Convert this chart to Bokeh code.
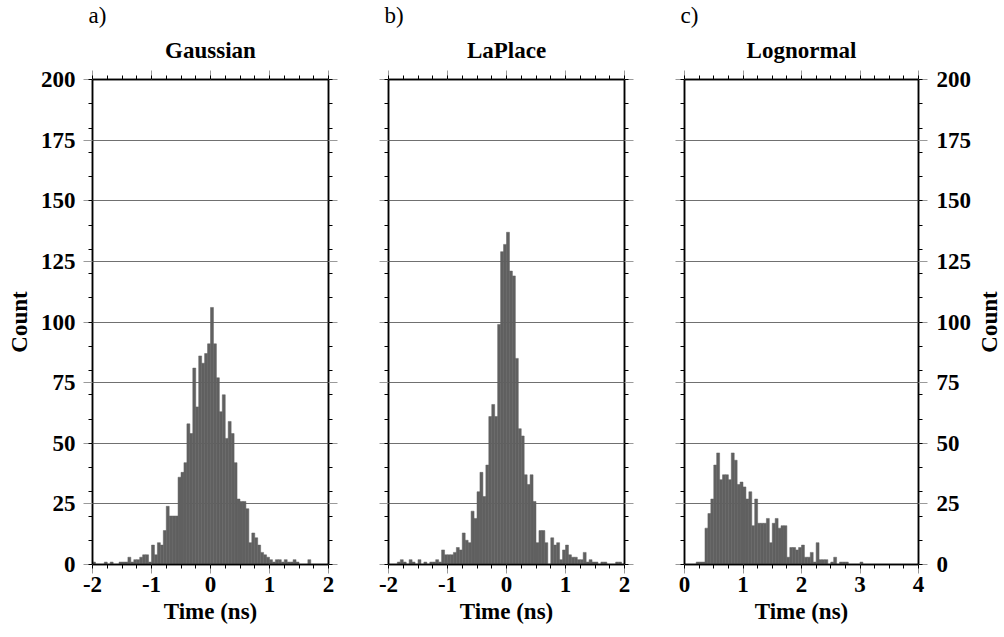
import numpy as np
from bokeh.plotting import figure
from bokeh.layouts import row
from bokeh.models import LinearAxis, FixedTicker, Title, ColumnDataSource
from bokeh.embed import file_html
from bokeh.resources import INLINE

# ---------------- data ----------------
BIN_WIDTH = 0.05
gauss_start = -2.0
laplace_start = -2.0
lognorm_start = 0.0

gauss_counts = [1, 0, 0, 0, 1, 0, 1, 0, 0, 1,
                1, 1, 3, 1, 2, 2, 3, 4, 4, 1,
                8, 4, 9, 8, 14, 24, 20, 20, 20, 36,
                38, 42, 58, 54, 81, 65, 86, 83, 87, 91,
                106, 91, 77, 63, 70, 52, 59, 54, 42, 27,
                26, 26, 23, 9, 13, 11, 8, 5, 4, 3,
                2, 1, 2, 2, 1, 2, 1, 1, 2, 1,
                0, 0, 0, 2, 0, 0, 0, 0, 0, 0]

laplace_counts = [0, 0, 0, 1, 2, 1, 0, 2, 1, 0,
                  2, 0, 1, 0, 1, 1, 2, 1, 6, 4,
                  4, 4, 5, 7, 6, 13, 10, 9, 22, 19,
                  30, 38, 28, 41, 61, 66, 61, 99, 129, 132,
                  137, 121, 119, 85, 56, 53, 37, 33, 37, 26,
                  9, 14, 14, 9, 0, 11, 8, 9, 2, 6,
                  8, 4, 3, 3, 2, 2, 5, 1, 2, 1,
                  1, 0, 1, 1, 0, 0, 0, 1, 1, 0]

lognorm_counts = [0, 0, 0, 0, 1, 1, 1, 15, 21, 27,
                  41, 46, 35, 37, 37, 35, 46, 43, 33, 34,
                  32, 27, 30, 16, 27, 17, 17, 17, 19, 9,
                  17, 19, 15, 16, 16, 3, 7, 7, 6, 7,
                  8, 3, 3, 5, 1, 9, 2, 2, 2, 0,
                  1, 3, 0, 1, 1, 1, 0, 0, 0, 0,
                  1, 0, 0, 0, 0, 0, 0, 0, 0, 0,
                  0, 0, 0, 0, 0, 0, 0, 0, 0, 0]

panel_letters = ["a)", "b)", "c)"]
panel_titles = ["Gaussian", "LaPlace", "Lognormal"]
x_ranges = [(-2, 2), (-2, 2), (0, 4)]
x_major = [[-2, -1, 0, 1, 2], [-2, -1, 0, 1, 2], [0, 1, 2, 3, 4]]
x_tick_labels = [["-2", "-1", "0", "1", "2"], ["-2", "-1", "0", "1", "2"],
                 ["0", "1", "2", "3", "4"]]
y_major = [0, 25, 50, 75, 100, 125, 150, 175, 200]
y_minor = list(range(0, 201, 10))
x_label = "Time (ns)"
y_label = "Count"

# ---------------- style ----------------
FONT = "Liberation Serif"
FS = "23px"
BAR = "#606060"
GRID = "#707070"
TICKGRAY = "#9a9a9a"

H = 629
BORDER_TOP = 79
BORDER_BOTTOM = 65


def style_axis(ax, major, minor, labels):
    ax.ticker = FixedTicker(ticks=major, minor_ticks=minor)
    ax.major_tick_in = 0
    ax.major_tick_out = 9
    ax.major_tick_line_color = TICKGRAY
    ax.major_tick_line_width = 1
    ax.minor_tick_in = 0
    ax.minor_tick_out = 4
    ax.minor_tick_line_color = "black"
    ax.minor_tick_line_width = 1
    ax.axis_line_color = "black"
    ax.axis_line_width = 1.5
    ax.major_label_text_font = FONT
    ax.major_label_text_font_style = "bold"
    ax.major_label_text_font_size = FS
    ax.major_label_text_color = "black"
    ax.axis_label_text_font = FONT
    ax.axis_label_text_font_style = "bold"
    ax.axis_label_text_font_size = FS
    ax.axis_label_text_color = "black"
    if not labels:
        ax.major_label_overrides = {t: "" for t in major}
        ax.major_label_standoff = 0


def make_panel(i, counts, start, width, bl, br):
    lo, hi = x_ranges[i]
    left = start + BIN_WIDTH * np.arange(len(counts))
    src = ColumnDataSource(dict(left=left, right=left + BIN_WIDTH,
                                top=counts, bottom=np.zeros(len(counts))))
    p = figure(width=width, height=H, x_range=(lo, hi), y_range=(0, 200),
               output_backend="svg", toolbar_location=None,
               min_border_left=bl, min_border_right=br,
               min_border_top=BORDER_TOP, min_border_bottom=BORDER_BOTTOM)
    p.background_fill_color = "white"
    p.border_fill_color = "white"
    p.outline_line_color = "black"
    p.outline_line_width = 1.5

    p.xgrid.grid_line_color = None
    p.ygrid.ticker = FixedTicker(ticks=y_major)
    p.ygrid.grid_line_color = GRID
    p.ygrid.grid_line_width = 1

    p.quad(left="left", right="right", top="top", bottom="bottom", source=src,
           fill_color=BAR, line_color=BAR, line_width=0.5)

    xminor = list(np.round(np.arange(lo, hi + 0.001, 0.25), 2))
    # bottom axis
    bx = p.xaxis[0]
    style_axis(bx, x_major[i], xminor, True)
    bx.major_label_overrides = dict(zip(x_major[i], x_tick_labels[i]))
    bx.major_label_standoff = 3
    bx.axis_label = x_label
    bx.axis_label_standoff = 4
    # top axis
    tx = LinearAxis()
    style_axis(tx, x_major[i], xminor, False)
    p.add_layout(tx, "above")
    # left axis
    ly = p.yaxis[0]
    style_axis(ly, y_major, y_minor, i == 0)
    if i == 0:
        ly.major_label_standoff = 8
        ly.axis_label = y_label
        ly.axis_label_standoff = 6
    # right axis
    ry = LinearAxis()
    style_axis(ry, y_major, y_minor, i == 2)
    if i == 2:
        ry.major_label_standoff = 9
    p.add_layout(ry, "right")

    # panel title (nearest the frame) and panel letter (outermost)
    p.add_layout(Title(text=panel_titles[i], align="center",
                       text_font=FONT, text_font_style="bold",
                       text_font_size=FS, text_color="black",
                       standoff=16), "above")
    p.add_layout(Title(text=panel_letters[i], align="left", offset=-4,
                       text_font=FONT, text_font_style="normal",
                       text_font_size=FS, text_color="black",
                       standoff=0), "above")
    return p


pa = make_panel(0, gauss_counts, gauss_start, 358, 92, 30)
pb = make_panel(1, laplace_counts, laplace_start, 296, 30, 30)
pc = make_panel(2, lognorm_counts, lognorm_start, 320, 30, 54)

# narrow strip carrying the right-hand "Count" label (reads upward, like the left one)
pd = figure(width=28, height=H, output_backend="svg", toolbar_location=None,
            x_axis_location=None, y_axis_location=None,
            min_border_left=0, min_border_right=0,
            min_border_top=BORDER_TOP, min_border_bottom=BORDER_BOTTOM)
pd.outline_line_color = None
pd.grid.visible = False
pd.background_fill_color = "white"
pd.border_fill_color = "white"
pd.add_layout(Title(text=y_label, align="center", text_font=FONT,
                    text_font_style="bold", text_font_size=FS,
                    text_color="black", standoff=0), "left")

layout = row(pa, pb, pc, pd)
open("out.html", "w").write(file_html(layout, INLINE))
